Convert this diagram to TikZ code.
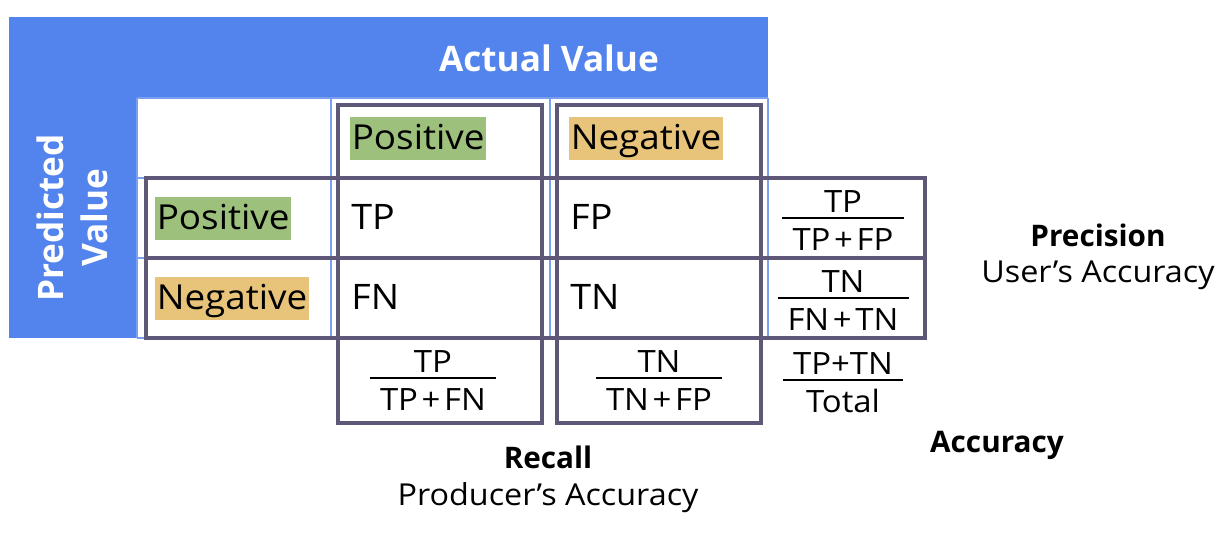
\documentclass[tikz,border=0pt]{standalone}
\usepackage{fontspec}
\setmainfont{Open Sans}[FakeStretch=1.07, BoldFeatures={FakeStretch=1.0}]
\usetikzlibrary{positioning}
\definecolor{actblue}{HTML}{5383EC}
\definecolor{gridblue}{HTML}{7A9FF0}
\definecolor{boxgray}{HTML}{5F5777}
\definecolor{posgreen}{HTML}{9DC07C}
\definecolor{neggold}{HTML}{E8C47A}
\setlength{\tabcolsep}{5.7pt}
\setlength{\arrayrulewidth}{0.75pt}
\newcommand{\ratio}[2]{\begin{tabular}{c}#1\\[-3.5pt]\hline\rule{0pt}{18pt}#2\end{tabular}}
\newcommand{\plus}{\hspace{0.12em}+\hspace{0.12em}}
\tikzset{
	head/.style={inner xsep=0.8pt, inner ysep=0pt, text height=18.7pt, text depth=5.7pt, anchor=base west, font=\fontsize{19.6}{24}\selectfont},
	entry/.style={inner sep=0pt, anchor=base west, font=\fontsize{20}{24}\selectfont},
	ratiobox/.style={inner sep=0pt, font=\fontsize{17.5}{21}\selectfont},
	metric/.style={inner sep=0pt, anchor=base, font=\fontsize{16.9}{20}\selectfont\bfseries},
	metricsub/.style={inner sep=0pt, anchor=base, font=\fontsize{17.2}{20}\selectfont},
	gridline/.style={draw=gridblue, line width=0.6pt},
	bigbox/.style={draw=boxgray, line width=2.1pt}
}
\begin{document}
\begin{tikzpicture}[x=0.02cm,y=-0.02cm]
	\useasboundingbox (0,0) rectangle (1232,536);
	% blue header band and side column
	\fill[actblue] (9,17) rectangle (768,98);
	\fill[actblue] (9,17) rectangle (137,338);
	\node[inner sep=0pt, anchor=base, text=white, font=\fontsize{20}{24}\selectfont\bfseries] (actual) at (549,72) {Actual Value};
	\node[rotate=90, align=center, text=white, font=\fontsize{20}{25}\selectfont\bfseries] (predicted) at (72,218) {Predicted\\Value};
	% thin table grid
	\foreach \x in {137,331,550,768}
	{
		\draw[gridline] (\x,98) -- (\x,338);
	}
	\foreach \y in {98,178,258,338}
	{
		\draw[gridline] (137,\y) -- (768,\y);
	}
	% class names
	\node[head, fill=posgreen] (colpos) at (350,150) {Positive};
	\node[head, fill=neggold] (colneg) at (569,150) {Negative};
	\node[head, fill=posgreen] (rowpos) at (155,230) {Positive};
	\node[head, fill=neggold] (rowneg) at (155,310) {Negative};
	% counts
	\node[entry] (tp) at (351,230) {TP};
	\node[entry] (fp) at (570,230) {FP};
	\node[entry] (fn) at (351,310) {FN};
	\node[entry] (tn) at (570,310) {TN};
	% ratios
	\node[ratiobox] (precpos) at (843,224) {\ratio{TP}{TP\plus FP}};
	\node[ratiobox] (precneg) at (843,304) {\ratio{TN}{FN\plus TN}};
	\node[ratiobox] (recpos) at (433,384) {\ratio{TP}{TP\plus FN}};
	\node[ratiobox] (recneg) at (659,384) {\ratio{TN}{TN\plus FP}};
	\node[ratiobox] (accall) at (843,386) {\ratio{TP+TN}{Total}};
	% metric names
	\node[metric] (precision) at (1098,247) {Precision};
	\node[metricsub] (users) at (1098,283) {User’s Accuracy};
	\node[metric] (recall) at (548,469) {Recall};
	\node[metricsub] (producers) at (548,506) {Producer’s Accuracy};
	\node[metric] (accuracy) at (997,453) {Accuracy};
	% thick boxes
	\draw[bigbox] (338,105) rectangle (542,423);
	\draw[bigbox] (557,105) rectangle (761,423);
	\draw[bigbox] (146,178) rectangle (925,338);
	\draw[bigbox] (146,258) -- (925,258);
\end{tikzpicture}
\end{document}
